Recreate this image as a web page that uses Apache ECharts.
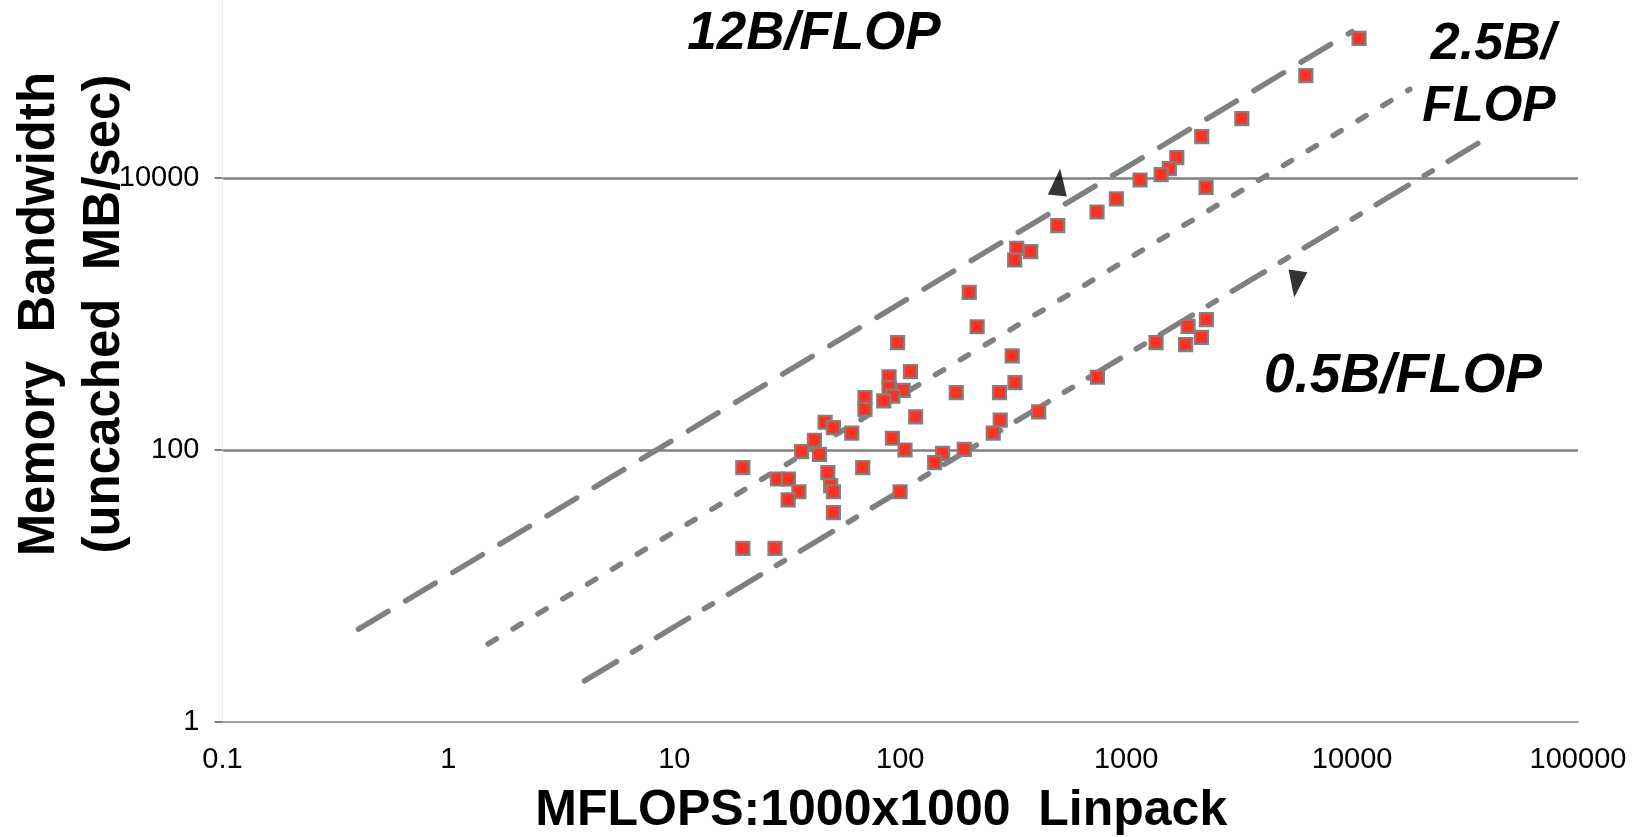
<!DOCTYPE html>
<html><head><meta charset="utf-8">
<script src="https://cdn.jsdelivr.net/npm/echarts@6/dist/echarts.min.js"></script>
<style>html,body{margin:0;padding:0;background:#fff}#c{width:1644px;height:837px}</style>
</head><body><div id="c"></div>
<script>
// ---- data ----
const mflops = [10740, 6240, 3250, 2160, 1675, 1553, 1428, 1152, 2258, 905,
  743, 498, 328, 378, 321, 202, 219, 97.3, 313, 111,
  89.2, 322, 89.2, 103, 177, 275, 92.7, 84.5, 69.8, 69.8,
  117, 277, 410, 746, 1356, 1879, 2265, 2153, 1832, 46.5,
  50.6, 61.0, 258, 41.7, 92.3, 36.6, 43.9, 105, 154, 192,
  142, 20.1, 68.2, 47.8, 28.6, 32.0, 49.2, 50.6, 35.6, 31.9,
  99.8, 50.6, 20.1, 27.9];
const bandwidth = [107000, 56800, 27400, 20200, 14160, 11750, 10620, 9700, 8570, 7050,
  5640, 4470, 3050, 2880, 2500, 1445, 807, 617, 492, 377,
  346, 313, 287, 275, 264, 264, 249, 230, 243, 199,
  175, 166, 191, 343, 617, 813, 912, 673, 596, 160,
  146, 133, 133, 118, 122, 97.2, 93, 100, 94.6, 101,
  80.7, 74.1, 74.1, 68.1, 61.2, 61.2, 54.6, 49.3, 49.3, 42.9,
  49.3, 34.6, 18.9, 18.9];

// reference lines (B/FLOP), endpoints
const line12X = [0.4, 10000];  const line12Y = [4.8, 120000];
const line25X = [1.5, 18000];  const line25Y = [3.75, 45000];
const line05X = [4, 36000];    const line05Y = [2, 18000];

// arrowhead annotations (data coordinates)
const arrowX = [503, 5650];
const arrowY = [9380, 1660];
const arrowRot = [-6, 172];

// texts
const xTitle = 'MFLOPS:1000x1000  Linpack';
const yTitle = ['Memory  Bandwidth', '(uncached  MB/sec)'];
const noteTexts = ['12B/FLOP', '2.5B/', 'FLOP', '0.5B/FLOP'];

// ---- chart ----
const FONT = '"Liberation Sans", Arial, sans-serif';
const GRAY = '#808080';
const pts = mflops.map((x, i) => [x, bandwidth[i]]);
const mk = (xs, ys) => xs.map((x, i) => [x, ys[i]]);
const fmt = v => String(+Number(v).toPrecision(6));

const lineSeries = (data, dash) => ({
  type: 'line', data: data, showSymbol: false, symbol: 'none', silent: true,
  lineStyle: { color: GRAY, width: 5.5, type: dash, cap: 'round' },
  z: 2
});

const chart = echarts.init(document.getElementById('c'), null, { renderer: 'canvas' });
chart.setOption({
  animation: false,
  backgroundColor: '#fff',
  grid: { left: 222.5, right: 66, top: -93.6, bottom: 115.2, containLabel: false, outerBoundsMode: 'none' },
  xAxis: {
    type: 'log', logBase: 10, min: 0.1, max: 100000, interval: 1,
    axisLine: { show: true, onZero: false, lineStyle: { color: GRAY, width: 1.5 } },
    axisTick: { show: false },
    splitLine: { show: false },
    axisLabel: { fontFamily: FONT, fontSize: 29, lineHeight: 30, color: '#000', margin: 23, formatter: fmt },
    name: xTitle, nameLocation: 'middle', nameGap: 64, nameMoveOverlap: false,
    nameTextStyle: { fontFamily: FONT, fontSize: 50, fontWeight: 'bold', color: '#000', lineHeight: 50, padding: [0, 38, 0, 0] }
  },
  yAxis: {
    type: 'log', logBase: 10, min: 1, max: 1000000, interval: 2,
    axisLine: { show: true, onZero: false, lineStyle: { color: '#eeeeee', width: 1 } },
    axisTick: { show: true, length: 8, lineStyle: { color: GRAY, width: 2 } },
    splitLine: { show: true, showMinLine: false, lineStyle: { color: GRAY, width: 2.5 } },
    axisLabel: { fontFamily: FONT, fontSize: 29, color: '#000', margin: 23, formatter: fmt },
    name: yTitle.join('\n'), nameLocation: 'middle', nameRotate: 90, nameGap: 85, nameMoveOverlap: false,
    nameTextStyle: { fontFamily: FONT, fontSize: 51, fontWeight: 'bold', color: '#000', lineHeight: 65 }
  },
  series: [
    lineSeries(mk(line12X, line12Y), [34.5, 20.5]),
    lineSeries(mk(line25X, line25Y), [9.5, 19.5]),
    lineSeries(mk(line05X, line05Y), [37.5, 18.5, 9.5, 18.5]),
    {
      type: 'scatter', data: pts, symbol: 'rect', symbolSize: 13, silent: true, z: 5,
      itemStyle: { color: '#ff3120', borderColor: GRAY, borderWidth: 2.2, opacity: 1 }
    },
    {
      type: 'scatter', silent: true, z: 6, symbol: 'triangle', symbolSize: [19, 27],
      data: arrowX.map((x, i) => ({ value: [x, arrowY[i]], symbolRotate: arrowRot[i] })),
      itemStyle: { color: '#000' }
    }
  ],
  graphic: [
    { type: 'text', x: 814, y: 34, style: { text: noteTexts[0], font: 'italic bold 53px ' + FONT, fill: '#000', align: 'center', verticalAlign: 'middle' } },
    { type: 'text', x: 1493, y: 45, style: { text: noteTexts[1], font: 'italic bold 52px ' + FONT, fill: '#000', align: 'center', verticalAlign: 'middle' } },
    { type: 'text', x: 1489, y: 107, style: { text: noteTexts[2], font: 'italic bold 50px ' + FONT, fill: '#000', align: 'center', verticalAlign: 'middle' } },
    { type: 'text', x: 1403, y: 377, style: { text: noteTexts[3], font: 'italic bold 55px ' + FONT, fill: '#000', align: 'center', verticalAlign: 'middle' } }
  ]
});
</script></body></html>
